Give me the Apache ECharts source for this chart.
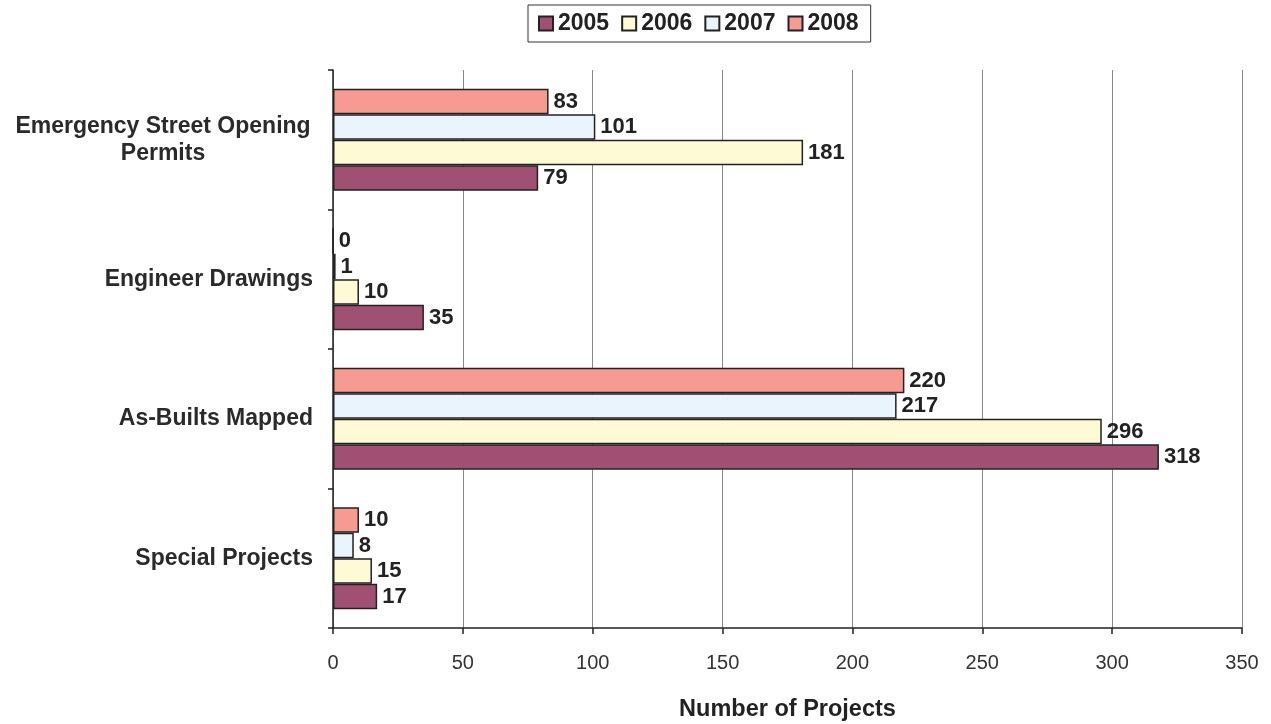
<!DOCTYPE html>
<html>
<head>
<meta charset="utf-8">
<script src="https://cdn.jsdelivr.net/npm/echarts@6/dist/echarts.min.js"></script>
<style>
  html, body { margin: 0; padding: 0; background: #fff; }
  #chart { width: 1271px; height: 724px; }
</style>
</head>
<body>
<div id="chart"></div>
<script>
// Project categories, listed bottom to top on the category axis
const categories = ['Special Projects', 'As-Builts Mapped', 'Engineer Drawings', 'Emergency Street Opening Permits'];
const years = ['2005', '2006', '2007', '2008'];
// Counts per year, in the same order as categories
const values2005 = [17, 318, 35, 79];
const values2006 = [15, 296, 10, 181];
const values2007 = [8, 217, 1, 101];
const values2008 = [10, 220, 0, 83];
const xTicks = [0, 50, 100, 150, 200, 250, 300, 350];

const seriesValues = [values2005, values2006, values2007, values2008];
const colors = ['#A05072', '#FFFAD6', '#EAF4FC', '#F79B92'];
const fontFamily = 'Arial, "Liberation Sans", sans-serif';

const chart = echarts.init(document.getElementById('chart'));

// Within each group the latest year sits on top, so series are added newest first
const order = [3, 2, 1, 0];

chart.setOption({
  animation: false,
  textStyle: { fontFamily: fontFamily },
  legend: {
    data: years,
    top: 5,
    left: 528,
    itemWidth: 14,
    itemHeight: 14,
    itemGap: 12,
    padding: [7, 12, 7, 10],
    borderColor: '#333',
    borderWidth: 1,
    icon: 'rect',
    textStyle: { fontSize: 23, fontWeight: 'bold', color: '#222', fontFamily: fontFamily }
  },
  grid: { left: 333, right: 29, top: 70, bottom: 96, containLabel: false, outerBoundsMode: 'none' },
  xAxis: {
    type: 'value',
    min: xTicks[0],
    max: xTicks[xTicks.length - 1],
    interval: 50,
    name: 'Number of Projects',
    nameLocation: 'middle',
    nameGap: 70,
    nameTextStyle: { fontSize: 23.5, fontWeight: 'bold', color: '#222', fontFamily: fontFamily },
    axisLine: { show: true, lineStyle: { color: '#222', width: 1.5 } },
    axisTick: { show: true, length: 6, lineStyle: { color: '#222', width: 1.5 } },
    axisLabel: { fontSize: 20, color: '#333', margin: 25, fontFamily: fontFamily },
    splitLine: { show: true, lineStyle: { color: '#888', width: 1 } }
  },
  yAxis: {
    type: 'category',
    data: categories,
    axisLine: { show: true, lineStyle: { color: '#222', width: 1.5 } },
    axisTick: { show: true, length: 5, lineStyle: { color: '#222', width: 1.5 } },
    axisLabel: {
      fontSize: 23,
      fontWeight: 'bold',
      color: '#2a2a2a',
      margin: 20,
      fontFamily: fontFamily,
      formatter: function (v) {
        if (v.length > 20) {
          const cut = v.lastIndexOf(' ');
          return '{c|' + v.slice(0, cut) + '}\n{c|' + v.slice(cut + 1) + '}';
        }
        return v;
      },
      rich: {
        c: { width: 300, align: 'center', fontSize: 23, fontWeight: 'bold', color: '#2a2a2a', fontFamily: fontFamily, lineHeight: 27 }
      }
    },
    splitLine: { show: false }
  },
  series: order.map(i => ({
    name: years[i],
    type: 'bar',
    data: seriesValues[i],
    barGap: '0%',
    barCategoryGap: '27%',
    itemStyle: { color: colors[i], borderColor: '#222', borderWidth: 1.5 },
    label: {
      show: true,
      position: 'right',
      distance: 5,
      fontSize: 22,
      fontWeight: 'bold',
      color: '#222',
      fontFamily: fontFamily
    }
  }))
});
</script>
</body>
</html>
